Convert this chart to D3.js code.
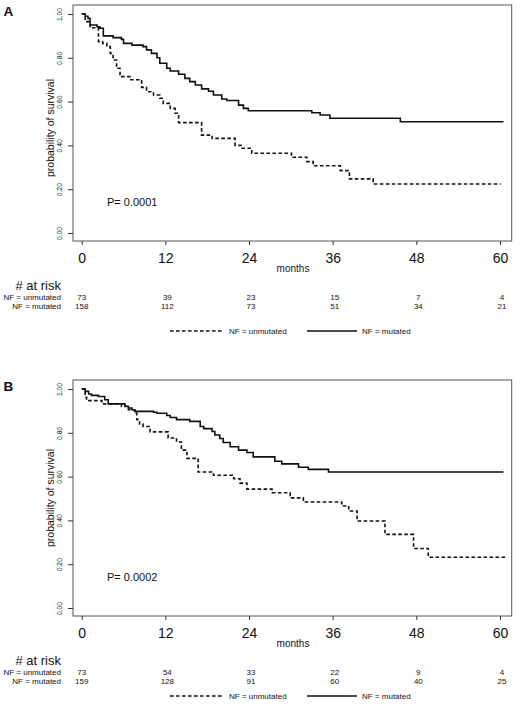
<!DOCTYPE html>
<html>
<head>
<meta charset="utf-8">
<script src="https://cdn.jsdelivr.net/npm/d3@7"></script>
<style>
  html, body { margin: 0; padding: 0; background: #fff; }
  svg { display: block; }
  text { font-family: "Liberation Sans", Arial, sans-serif; fill: #111; }
</style>
</head>
<body>
<svg id="chart" width="520" height="715"></svg>
<script>
// ---------- data ----------
const xTicks = [0, 12, 24, 36, 48, 60];
const yTicks = [0, 0.2, 0.4, 0.6, 0.8, 1.0];
const groupLabels = ["NF = unmutated", "NF = mutated"];
const panelLetters = ["A", "B"];
const pValues = ["P= 0.0001", "P= 0.0002"];

// Panel A
const aUnmutTime = [0, 0.5, 1.2, 2.4, 3.0, 3.6, 4.1, 4.5, 5.0, 5.5, 6.9, 8.6, 9.3, 10.3, 11.2, 11.7, 12.7, 13.4, 13.9, 17.2, 18.7, 22.0, 23.0, 24.4, 30.1, 32.3, 33.2, 37.1, 38.4, 41.8, 60.1];
const aUnmutSurv = [1.0, 0.965, 0.937, 0.874, 0.866, 0.851, 0.82, 0.79, 0.752, 0.714, 0.70, 0.665, 0.645, 0.63, 0.615, 0.592, 0.569, 0.547, 0.504, 0.447, 0.432, 0.40, 0.387, 0.364, 0.346, 0.326, 0.307, 0.285, 0.247, 0.224, 0.224];
const aMutTime = [0, 0.5, 0.9, 1.2, 2.2, 2.6, 3.1, 4.5, 5.7, 6.0, 7.2, 8.8, 9.3, 10.0, 10.8, 11.2, 12.2, 12.7, 13.9, 14.8, 15.5, 16.3, 17.2, 18.2, 18.9, 20.1, 20.8, 22.5, 23.2, 23.9, 33.0, 34.2, 35.6, 45.7, 60.5];
const aMutSurv = [1.0, 0.99, 0.98, 0.95, 0.942, 0.935, 0.90, 0.892, 0.884, 0.866, 0.858, 0.851, 0.836, 0.82, 0.80, 0.775, 0.752, 0.740, 0.725, 0.706, 0.691, 0.676, 0.658, 0.647, 0.630, 0.612, 0.605, 0.584, 0.569, 0.558, 0.549, 0.539, 0.524, 0.508, 0.508];
const aRiskUnmut = [73, 39, 23, 15, 7, 4];
const aRiskMut = [158, 112, 73, 51, 34, 21];

// Panel B
const bUnmutTime = [0, 0.5, 0.7, 2.9, 5.7, 6.7, 7.6, 7.9, 8.3, 8.8, 9.8, 12.4, 13.6, 14.3, 15.1, 16.7, 18.9, 21.8, 22.7, 23.7, 27.3, 29.9, 31.8, 37.3, 38.3, 39.5, 43.5, 47.6, 49.7, 60.9];
const bUnmutSurv = [1.0, 0.962, 0.947, 0.932, 0.92, 0.905, 0.89, 0.86, 0.84, 0.829, 0.804, 0.776, 0.758, 0.721, 0.683, 0.621, 0.606, 0.59, 0.57, 0.543, 0.526, 0.503, 0.484, 0.466, 0.443, 0.397, 0.336, 0.272, 0.232, 0.232];
const bMutTime = [0, 0.5, 1.0, 1.4, 2.4, 3.3, 3.8, 6.2, 6.7, 7.2, 7.6, 10.3, 10.8, 12.2, 12.7, 13.6, 15.5, 17.0, 17.5, 18.7, 19.1, 19.8, 20.3, 21.3, 22.5, 23.7, 24.6, 27.7, 28.7, 31.1, 32.5, 35.4, 60.5];
const bMutSurv = [1.0, 0.989, 0.977, 0.971, 0.966, 0.951, 0.932, 0.921, 0.913, 0.905, 0.898, 0.894, 0.889, 0.879, 0.870, 0.860, 0.852, 0.829, 0.819, 0.806, 0.79, 0.774, 0.756, 0.736, 0.721, 0.710, 0.690, 0.670, 0.658, 0.643, 0.633, 0.621, 0.621];
const bRiskUnmut = [73, 54, 33, 22, 9, 4];
const bRiskMut = [159, 128, 91, 60, 40, 25];

const zip = (t, s) => t.map((v, i) => ({ t: v, s: s[i] }));

const panels = [
  { top: 0, letter: panelLetters[0], p: pValues[0], ylabY: 128, legendY: 331,
    unmut: zip(aUnmutTime, aUnmutSurv), mut: zip(aMutTime, aMutSurv),
    risk: [aRiskUnmut, aRiskMut] },
  { top: 375, letter: panelLetters[1], p: pValues[1], ylabY: 123, legendY: 321,
    unmut: zip(bUnmutTime, bUnmutSurv), mut: zip(bMutTime, bMutSurv),
    risk: [bRiskUnmut, bRiskMut] }
];

// ---------- drawing ----------
const svg = d3.select("#chart");
const x = d3.scaleLinear().domain([0, 60]).range([81.7, 500]);
const box = { left: 73, right: 511.7, top: 5, bottom: 241 };
const dashPattern = "3.6,2.4";

panels.forEach(P => {
  const g = svg.append("g").attr("transform", `translate(0,${P.top})`);
  const y = d3.scaleLinear().domain([0, 1]).range([233, 14]);

  // box
  g.append("rect")
    .attr("x", box.left).attr("y", box.top)
    .attr("width", box.right - box.left).attr("height", box.bottom - box.top)
    .attr("fill", "none").attr("stroke", "#555").attr("stroke-width", 1);

  // x axis
  const xa = g.append("g").attr("transform", `translate(0,${box.bottom})`)
    .call(d3.axisBottom(x).tickValues(xTicks).tickSize(4).tickPadding(4).tickFormat(d3.format("d")));
  xa.select(".domain").remove();
  xa.selectAll("line").attr("stroke", "#333");
  xa.selectAll("text")
    .attr("font-family", "Liberation Sans, Arial, sans-serif")
    .attr("font-size", 14).attr("fill", "#111")
    .attr("y", 17).attr("dy", "0.35em");

  // y axis
  const ya = g.append("g").attr("transform", `translate(${box.left},0)`)
    .call(d3.axisLeft(y).tickValues(yTicks).tickSize(5).tickFormat(d3.format(".2f")));
  ya.select(".domain").remove();
  ya.selectAll("line").attr("stroke", "#333");
  ya.selectAll("text")
    .attr("x", null).attr("dy", null)
    .attr("font-family", "Liberation Sans, Arial, sans-serif")
    .attr("font-size", 6.8).attr("fill", "#333")
    .attr("text-anchor", "middle")
    .attr("dominant-baseline", "central")
    .attr("transform", "translate(-13.5,0) rotate(-90)");

  // axis titles
  g.append("text")
    .attr("transform", `translate(50,${P.ylabY}) rotate(-90)`)
    .attr("text-anchor", "middle").attr("dominant-baseline", "central")
    .attr("font-size", 10.5).text("probability of survival");
  g.append("text")
    .attr("x", 293).attr("y", 268)
    .attr("text-anchor", "middle").attr("dominant-baseline", "central")
    .attr("font-size", 10).text("months");

  // panel letter
  g.append("text").attr("x", 3.5).attr("y", 15.7)
    .attr("font-weight", "bold").attr("font-size", 13.5).text(P.letter);

  // p value
  g.append("text").attr("x", 107).attr("y", 202)
    .attr("dominant-baseline", "central")
    .attr("font-size", 11).text(P.p);

  // curves
  const line = d3.line().x(d => x(d.t)).y(d => y(d.s)).curve(d3.curveStepAfter);
  g.append("path").datum(P.unmut).attr("d", line)
    .attr("fill", "none").attr("stroke", "#111").attr("stroke-width", 1.6)
    .attr("stroke-dasharray", dashPattern);
  g.append("path").datum(P.mut).attr("d", line)
    .attr("fill", "none").attr("stroke", "#111").attr("stroke-width", 1.6);

  // at-risk table
  g.append("text").attr("x", 61).attr("y", 289.5)
    .attr("text-anchor", "end").attr("font-size", 13).text("# at risk");
  const rowY = [297, 306.5];
  groupLabels.forEach((lab, i) => {
    g.append("text").attr("x", 61).attr("y", rowY[i])
      .attr("text-anchor", "end").attr("dominant-baseline", "central")
      .attr("font-size", 8).attr("fill", "#222").text(lab);
    g.selectAll(null).data(P.risk[i]).enter().append("text")
      .attr("x", (d, j) => x(xTicks[j]) + (j === 0 ? 0 : 2))
      .attr("y", rowY[i])
      .attr("text-anchor", "middle").attr("dominant-baseline", "central")
      .attr("font-size", 8).attr("fill", "#222").text(d => d);
  });

  // legend
  const ly = P.legendY;
  g.append("line").attr("x1", 170).attr("x2", 222).attr("y1", ly).attr("y2", ly)
    .attr("stroke", "#111").attr("stroke-width", 1.5).attr("stroke-dasharray", dashPattern);
  g.append("text").attr("x", 229).attr("y", ly).attr("dominant-baseline", "central")
    .attr("font-size", 8).attr("fill", "#222").text(groupLabels[0]);
  g.append("line").attr("x1", 307).attr("x2", 357).attr("y1", ly).attr("y2", ly)
    .attr("stroke", "#111").attr("stroke-width", 1.5);
  g.append("text").attr("x", 362).attr("y", ly).attr("dominant-baseline", "central")
    .attr("font-size", 8).attr("fill", "#222").text(groupLabels[1]);
});
</script>
</body>
</html>
